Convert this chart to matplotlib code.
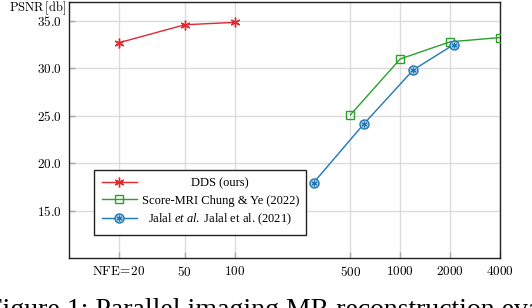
import matplotlib
matplotlib.use("Agg")
import matplotlib.pyplot as plt
from matplotlib.legend_handler import HandlerTuple

plt.rcParams['mathtext.fontset'] = 'cm'
plt.rcParams['mathtext.it'] = 'Liberation Serif:italic'
plt.rcParams['mathtext.rm'] = 'Liberation Serif'

# data
dds_nfe = [20, 50, 100]
dds_psnr = [32.7, 34.6, 34.85]
score_nfe = [500, 1000, 2000, 4000]
score_psnr = [25.1, 31.0, 32.8, 33.25]
jalal_nfe = [300, 600, 1200, 2100]
jalal_psnr = [17.95, 24.1, 29.85, 32.5]

xticks = [20, 50, 100, 500, 1000, 2000, 4000]
xticklabels = [r'$\mathrm{NFE}\!=\!20$', r'$50$', r'$100$', r'$500$', r'$1000$', r'$2000$', r'$4000$']
yticks = [15, 20, 25, 30, 35]
yticklabels = [r'$15.0$', r'$20.0$', r'$25.0$', r'$30.0$', r'$35.0$']

legend_labels = ['DDS (ours)', 'Score-MRI Chung & Ye (2022)', r'Jalal $\it{et\ al.}$ Jalal et al. (2021)']
caption_prefix = 'Figure 1: '
caption = 'Figure 1: Parallel imaging MR reconstruction evaluation'

W, H = 532, 308
fig = plt.figure(figsize=(W/100, H/100), dpi=100)
L, R, T, B = 69, 500, 2, 258
ax = fig.add_axes([L/W, (H-B)/H, (R-L)/W, (B-T)/H])

red = '#e0282e'
green = '#2ca02c'
blue = '#1f77b4'

l1, = ax.plot(dds_nfe, dds_psnr, color=red, lw=1.0, marker=(6, 2, 0), ms=7, mew=1.0, zorder=3)
l2, = ax.plot(score_nfe, score_psnr, color=green, lw=1.0, marker='s', ms=6, mfc='none', mew=1.0, zorder=3)
l3, = ax.plot(jalal_nfe, jalal_psnr, color=blue, lw=1.0, marker='o', ms=6.5, mfc='#a9c8e6', mew=1.0, zorder=3)
l3b, = ax.plot(jalal_nfe, jalal_psnr, color=blue, lw=0, marker=(6, 2, 0), ms=4, mew=0.8, zorder=4)

ax.set_xscale('log')
ax.set_xlim(10, 4000)
ax.set_ylim(10, 37)
ax.set_xticks(xticks)
ax.set_xticklabels(xticklabels)
ax.xaxis.set_minor_locator(matplotlib.ticker.NullLocator())
ax.set_yticks(yticks)
ax.set_yticklabels(yticklabels)
ax.tick_params(direction='in', length=4, width=1.0, color='#aaaaaa', labelsize=9.5, pad=5)
ax.grid(True, color='#dcdcdc', lw=1.0)
ax.set_axisbelow(True)
for s in ax.spines.values():
    s.set_linewidth(1.0)
    s.set_color('#222222')

fig.text(66/W, 1 - 8/H, r'$\mathrm{PSNR\,[db]}$', ha='right', va='center', fontsize=9)

leg = ax.legend([l1, l2, (l3, l3b)], legend_labels,
                handler_map={tuple: HandlerTuple(ndivide=1, pad=0)},
                loc='upper left', bbox_to_anchor=((94-L)/(R-L), (B-170)/(B-T)),
                borderaxespad=0, prop={'family': 'Liberation Serif', 'size': 9},
                handlelength=2.8, handletextpad=0.4, labelspacing=0.42,
                fancybox=False, framealpha=1, edgecolor='#222222', borderpad=0.6)
leg.get_frame().set_linewidth(1.0)
leg.get_texts()[2].set_math_fontfamily('custom')

# caption, partly cut off at the bottom edge as in the reference
fig.canvas.draw()
r = fig.canvas.get_renderer()
tmp = fig.text(0, 0, caption_prefix.replace(' ', '\u00a0'), fontsize=20, family='Liberation Serif')
pw = tmp.get_window_extent(r).width
tmp.remove()
fig.text((95 - pw)/W, -9/H, caption, fontsize=20, family='Liberation Serif', ha='left', va='baseline')

# centre legend texts within their column
texts = leg.get_texts()
widths = [t.get_window_extent(r).width for t in texts]
mw = max(widths)
for t, w in zip(texts, widths):
    t.set_position(((mw - w) / 2, 0))

fig.savefig('out.png', dpi=100)
